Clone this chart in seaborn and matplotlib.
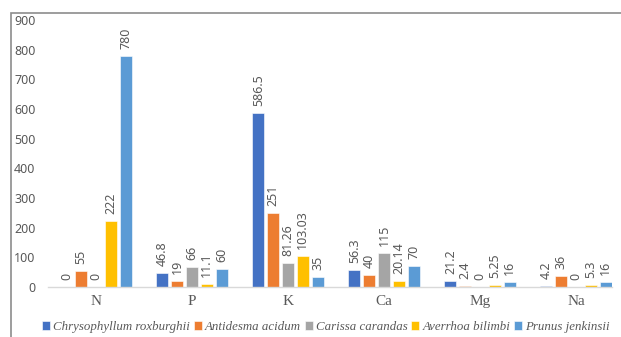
import pandas as pd
import seaborn as sns
import matplotlib.pyplot as plt
from matplotlib.patches import Rectangle


nutrients = ['N', 'P', 'K', 'Ca', 'Mg', 'Na']
species = ['Chrysophyllum roxburghii', 'Antidesma acidum', 'Carissa carandas',
           'Averrhoa bilimbi', 'Prunus jenkinsii']

chrysophyllum = [0, 46.8, 586.5, 56.3, 21.2, 4.2]
antidesma = [55, 19, 251, 40, 2.4, 36]
carissa = [0, 66, 81.26, 115, 0, 0]
averrhoa = [222, 11.1, 103.03, 20.14, 5.25, 5.3]
prunus = [780, 60, 35, 70, 16, 16]

colors = ['#4472C4', '#ED7D31', '#A5A5A5', '#FFC000', '#5B9BD5']
grey = '#595959'

rows = []
for name, vals in zip(species, [chrysophyllum, antidesma, carissa, averrhoa, prunus]):
    for nut, v in zip(nutrients, vals):
        rows.append({'nutrient': nut, 'species': name, 'value': v})
df = pd.DataFrame(rows)

sns.set_style('white')
plt.rcParams['font.family'] = ['Noto Sans', 'DejaVu Sans']

fig = plt.figure(figsize=(6.21, 3.37), dpi=100)
ax = fig.add_axes([48 / 621, 50 / 337, 564 / 621, 267 / 337])

sns.barplot(data=df, x='nutrient', y='value', hue='species', order=nutrients,
            hue_order=species, palette=colors, saturation=1, width=0.77, gap=0.19,
            edgecolor='white', linewidth=0.4, legend=True, ax=ax)

for cont in ax.containers:
    ax.bar_label(cont, fmt='{:g}', rotation=90, padding=5, fontsize=9, color=grey)

ax.set_ylim(0, 900)
ax.set_xlim(-0.5, 5.375)
ax.set_yticks(range(0, 901, 100))
ax.tick_params(axis='y', labelsize=9, labelcolor=grey, length=0, pad=9)
ax.tick_params(axis='x', length=0, pad=6)
for lab in ax.get_xticklabels():
    lab.set_fontfamily('Liberation Serif')
    lab.set_fontsize(11)
    lab.set_color(grey)
ax.set_xlabel('')
ax.set_ylabel('')
for side in ['top', 'right', 'left']:
    ax.spines[side].set_visible(False)
ax.spines['bottom'].set_color('#D9D9D9')
ax.spines['bottom'].set_linewidth(1)

handles, labels = ax.get_legend_handles_labels()
ax.get_legend().remove()
leg = fig.legend(handles, labels, loc='center', bbox_to_anchor=(326 / 621, 1 - 327 / 337),
                 ncol=5, frameon=False, handlelength=0.6, handleheight=0.6,
                 handletextpad=0.25, columnspacing=0.3, borderaxespad=0,
                 prop={'family': 'Liberation Serif', 'style': 'italic', 'size': 9.3})
for t in leg.get_texts():
    t.set_color(grey)

# outer chart frame (cut off at right and bottom)
fig.patches.append(Rectangle((10.5 / 621, -0.1), 1.2, 1.1 - 13.5 / 337,
                             transform=fig.transFigure, fill=False,
                             edgecolor='#8C8C8C', linewidth=1.2))

fig.savefig('out.png', dpi=100)
